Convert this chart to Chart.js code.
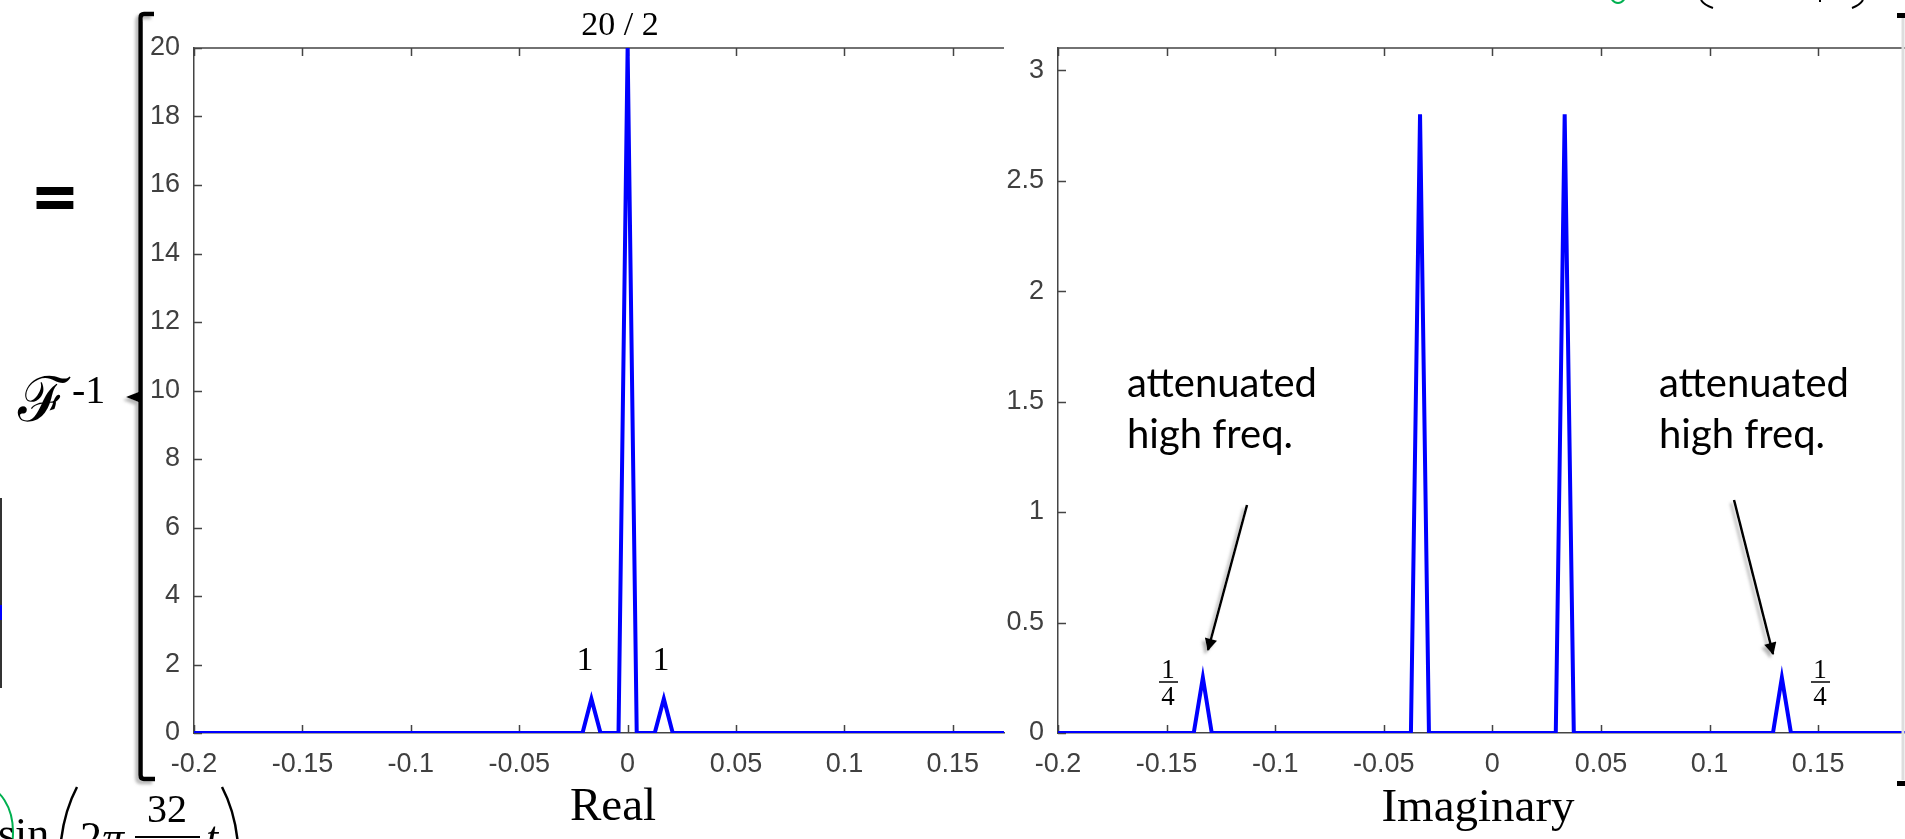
<!DOCTYPE html>
<html>
<head>
<meta charset="utf-8">
<script src="https://cdn.jsdelivr.net/npm/chart.js@4.4.1/dist/chart.umd.min.js"></script>
<style>
  html, body { margin: 0; padding: 0; background: #fff; }
  #page { position: relative; width: 1905px; height: 839px; overflow: hidden; background: #fff; }
  canvas, svg { position: absolute; left: 0; top: 0; }
  svg { pointer-events: none; }
  .serif { font-family: "Liberation Serif", "Times New Roman", serif; fill: #000; }
  .note { font-family: Lato, "Open Sans", sans-serif; font-size: 40px; fill: #000; }
</style>
</head>
<body>
<div id="page">
  <canvas id="realChart" width="1905" height="839"></canvas>
  <canvas id="imagChart" width="1905" height="839"></canvas>
  <svg width="1905" height="839" viewBox="0 0 1905 839">
    <defs>
      <filter id="shadow" x="-20%" y="-20%" width="140%" height="140%">
        <feDropShadow dx="-3" dy="3" stdDeviation="1.5" flood-color="#888" flood-opacity="0.6"/>
      </filter>
      <marker id="head" viewBox="0 0 10 10" refX="9" refY="5" markerWidth="6" markerHeight="5" orient="auto">
        <path d="M0,0 L10,5 L0,10 z" fill="#000"/>
      </marker>
    </defs>

    <!-- big brace on the left -->
    <g filter="url(#shadow)">
      <path d="M154,14 L144,14 Q140.5,14 140.5,18 L140.5,775 Q140.5,779 144,779 L155,779" fill="none" stroke="#000" stroke-width="4.5"/>
      <path d="M141,391 L126,397 L141,403 z" fill="#000"/>
    </g>
    <!-- right bracket, mostly cut off -->
    <line x1="1903" y1="18" x2="1903" y2="780" stroke="#ddd" stroke-width="3"/>
    <rect x="1897" y="13" width="8" height="5" fill="#000"/>
    <rect x="1897" y="781" width="8" height="5" fill="#000"/>

    <!-- leftover edge of the previous plot -->
    <line x1="1" y1="498" x2="1" y2="688" stroke="#333" stroke-width="2"/>
    <line x1="1" y1="605" x2="1" y2="620" stroke="#0000ff" stroke-width="2"/>

    <text x="55" y="224" text-anchor="middle" style="font-family:'Open Sans',sans-serif;font-weight:700;font-size:76px">=</text>
    <text class="serif" x="18" y="421" style="font-family:'DejaVu Serif',serif;font-size:62px">ℱ</text>
    <text class="serif" x="72" y="403" style="font-size:40px">-1</text>

    <text class="serif" x="620" y="35" text-anchor="middle" style="font-size:34px">20 / 2</text>
    <text class="serif" x="585" y="670" text-anchor="middle" style="font-size:34px">1</text>
    <text class="serif" x="661" y="670" text-anchor="middle" style="font-size:34px">1</text>
    <text class="serif" x="613" y="820" text-anchor="middle" style="font-size:47px">Real</text>
    <text class="serif" x="1478" y="821" text-anchor="middle" style="font-size:47px">Imaginary</text>

    <text class="note" x="1127" y="397">attenuated</text>
    <text class="note" x="1127" y="448">high freq.</text>
    <text class="note" x="1659" y="397">attenuated</text>
    <text class="note" x="1659" y="448">high freq.</text>

    <g filter="url(#shadow)">
      <line x1="1247" y1="505" x2="1208" y2="650" stroke="#000" stroke-width="2.5" marker-end="url(#head)"/>
      <line x1="1734" y1="500" x2="1773" y2="654" stroke="#000" stroke-width="2.5" marker-end="url(#head)"/>
    </g>

    <!-- 1/4 labels -->
    <text class="serif" x="1168" y="678" text-anchor="middle" style="font-size:27px">1</text>
    <line x1="1159" y1="682" x2="1178" y2="682" stroke="#000" stroke-width="1.5"/>
    <text class="serif" x="1168" y="705" text-anchor="middle" style="font-size:27px">4</text>
    <text class="serif" x="1820" y="678" text-anchor="middle" style="font-size:27px">1</text>
    <line x1="1811" y1="682" x2="1830" y2="682" stroke="#000" stroke-width="1.5"/>
    <text class="serif" x="1820" y="705" text-anchor="middle" style="font-size:27px">4</text>

    <!-- formula cut off at the bottom left -->
    <ellipse cx="-16" cy="832" rx="29" ry="45" fill="none" stroke="#00b050" stroke-width="2"/>
    <text class="serif" x="-2" y="848" style="font-size:44px">sin</text>
    <path d="M77,787 Q57,825 60,880" fill="none" stroke="#000" stroke-width="2.5"/>
    <text class="serif" x="80" y="852" style="font-size:44px">2<tspan font-style="italic">π</tspan></text>
    <text class="serif" x="167" y="822" text-anchor="middle" style="font-size:40px">32</text>
    <line x1="135" y1="837" x2="200" y2="837" stroke="#000" stroke-width="2"/>
    <text class="serif" x="206" y="852" style="font-size:44px;font-style:italic">t</text>
    <path d="M222,787 Q242,825 238,880" fill="none" stroke="#000" stroke-width="2.5"/>

    <!-- formula cut off at the top right -->
    <ellipse cx="1618" cy="-14" rx="10" ry="17" fill="none" stroke="#00b050" stroke-width="2"/>
    <path d="M1701,0 Q1704,5 1713,8" fill="none" stroke="#000" stroke-width="2"/>
    <path d="M1863,0 Q1860,5 1852,8" fill="none" stroke="#000" stroke-width="2"/>
    <line x1="1820" y1="0" x2="1820" y2="2" stroke="#000" stroke-width="2"/>
  </svg>
</div>

<script>
// Real part of the spectrum
const realFreq = [-0.2, -0.0208, -0.0167, -0.0125, -0.0042, 0, 0.0042, 0.0125, 0.0167, 0.0208, 0.2];
const realValue = [0, 0, 1, 0, 0, 20, 0, 0, 1, 0, 0];

// Imaginary part of the spectrum
const imagFreq = [-0.2, -0.1375, -0.1333, -0.1292, -0.0375, -0.0333, -0.0292, 0.0292, 0.0333, 0.0375, 0.1292, 0.1333, 0.1375, 0.2];
const imagValue = [0, 0, 0.25, 0, 0, 2.8, 0, 0, 2.8, 0, 0, 0.25, 0, 0];

// Tick values and labels
const xTicks = [-0.2, -0.15, -0.1, -0.05, 0, 0.05, 0.1, 0.15];
const xTickLabels = ['-0.2', '-0.15', '-0.1', '-0.05', '0', '0.05', '0.1', '0.15'];
const realYTicks = [0, 2, 4, 6, 8, 10, 12, 14, 16, 18, 20];
const realYTickLabels = ['0', '2', '4', '6', '8', '10', '12', '14', '16', '18', '20'];
const imagYTicks = [0, 0.5, 1, 1.5, 2, 2.5, 3];
const imagYTickLabels = ['0', '0.5', '1', '1.5', '2', '2.5', '3'];

const axisColor = '#444';
const tickFont = { family: "'Liberation Sans', Arial, sans-serif", size: 27 };

// MATLAB style box: top edge plus ticks pointing inward
const matlabBox = {
    id: 'matlabBox',
    beforeDatasetsDraw(chart) {
        const { ctx, chartArea: a, scales: { x, y } } = chart;
        ctx.save();
        ctx.strokeStyle = axisColor;
        ctx.lineWidth = 1.5;
        ctx.beginPath();
        ctx.moveTo(a.left, a.top);
        ctx.lineTo(a.right, a.top);
        x.ticks.forEach(t => {
            const px = Math.round(x.getPixelForValue(t.value)) + 0.5;
            ctx.moveTo(px, a.bottom);
            ctx.lineTo(px, a.bottom - 8);
            ctx.moveTo(px, a.top);
            ctx.lineTo(px, a.top + 8);
        });
        y.ticks.forEach(t => {
            const py = Math.round(y.getPixelForValue(t.value)) + 0.5;
            ctx.moveTo(a.left, py);
            ctx.lineTo(a.left + 8, py);
        });
        ctx.stroke();
        ctx.restore();
    }
};

function makeChart(canvasId, freq, values, opts) {
    const points = freq.map((f, i) => ({ x: f, y: values[i] }));
    return new Chart(document.getElementById(canvasId), {
        type: 'line',
        data: {
            datasets: [{
                data: points,
                borderColor: '#0000ff',
                borderWidth: 4,
                pointRadius: 0,
                tension: 0,
                fill: false
            }]
        },
        options: {
            responsive: false,
            animation: false,
            events: [],
            layout: { padding: opts.padding },
            plugins: { legend: { display: false }, tooltip: { enabled: false } },
            scales: {
                x: {
                    type: 'linear',
                    min: -0.2,
                    max: opts.xMax,
                    bounds: 'data',
                    grid: { display: false, drawTicks: false },
                    border: { display: true, color: axisColor, width: 1.5 },
                    afterBuildTicks: scale => { scale.ticks = xTicks.map(v => ({ value: v })); },
                    afterFit: scale => { scale.height = 60; },
                    ticks: {
                        autoSkip: false,
                        maxRotation: 0,
                        padding: 15,
                        color: '#404040',
                        font: tickFont,
                        callback: (value, index) => xTickLabels[index]
                    }
                },
                y: {
                    type: 'linear',
                    min: 0,
                    max: opts.yMax,
                    bounds: 'data',
                    grid: { display: false, drawTicks: false },
                    border: { display: true, color: axisColor, width: 1.5 },
                    afterBuildTicks: scale => { scale.ticks = opts.yTicks.map(v => ({ value: v })); },
                    afterFit: scale => { scale.width = 60; },
                    ticks: {
                        autoSkip: false,
                        padding: 14,
                        color: '#404040',
                        font: tickFont,
                        callback: (value, index) => opts.yLabels[index]
                    }
                }
            }
        },
        plugins: [matlabBox]
    });
}

makeChart('realChart', realFreq, realValue, {
    xMax: 0.1736,
    yMax: 20,
    yTicks: realYTicks,
    yLabels: realYTickLabels,
    padding: { left: 134, right: 901, top: 48, bottom: 46 }
});

makeChart('imagChart', imagFreq, imagValue, {
    xMax: 0.19,
    yMax: 3.1,
    yTicks: imagYTicks,
    yLabels: imagYTickLabels,
    padding: { left: 998, right: 0, top: 48, bottom: 46 }
});
</script>
</body>
</html>
